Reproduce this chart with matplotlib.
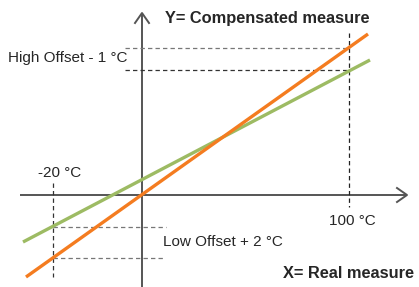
import matplotlib
matplotlib.use('Agg')
import matplotlib.pyplot as plt

plt.rcParams['font.family'] = ['Liberation Sans', 'DejaVu Sans']

# schematic units, origin at the axis crossing
line_x = [-116, 226]
orange_y = [-82, 161]
green_x = [-119, 228]
green_y = [-47, 135]

tick_x = [-89, 207]
tick_labels = ['-20 °C', '100 °C']
orange_at = [-63, 147]
green_at = [-32, 125]

orange = '#f47c20'
green = '#9dbb63'
axis_col = '#555555'

fig = plt.figure(figsize=(4.19, 2.87), dpi=100)
ax = fig.add_axes([0, 0, 1, 1])
ax.set_xlim(-142, 277)
ax.set_ylim(-92, 195)
ax.axis('off')

# axes with open arrow heads
ax.plot([-122, 265], [0, 0], color=axis_col, lw=1.4, solid_capstyle='butt')
ax.plot([0, 0], [-92, 182], color=axis_col, lw=1.4, solid_capstyle='butt')
ax.plot([255, 265, 255], [7, 0, -7], color=axis_col, lw=1.4)
ax.plot([-7, 0, 7], [172, 182, 172], color=axis_col, lw=1.4)

dash = dict(lw=0.9, dashes=(3.5, 2.5))
# verticals at -20 and 100
ax.plot([tick_x[0], tick_x[0]], [12, -82], color='#333333', **dash)
ax.plot([tick_x[1], tick_x[1]], [162, -12], color='#222222', **dash)
# high side
ax.plot([-17, tick_x[1]], [orange_at[1], orange_at[1]], color='#777777', **dash)
ax.plot([-17, tick_x[1]], [green_at[1], green_at[1]], color='#333333', **dash)
# low side
ax.plot([tick_x[0], 24], [green_at[0], green_at[0]], color='#777777', **dash)
ax.plot([tick_x[0], 23], [orange_at[0], orange_at[0]], color='#777777', **dash)

ax.plot(green_x, green_y, color=green, lw=2.4, solid_capstyle='butt')
ax.plot(line_x, orange_y, color=orange, lw=2.4, solid_capstyle='butt')

fs = 11
txt = '#262626'
ax.text(-82, 22, tick_labels[0], fontsize=fs, ha='center', va='center', color=txt)
ax.text(210, -26, tick_labels[1], fontsize=fs, ha='center', va='center', color=txt)
ax.text(-134, 137, 'High Offset - 1 °C', fontsize=fs, ha='left', va='center', color=txt)
ax.text(21, -47, 'Low Offset + 2 °C', fontsize=fs, ha='left', va='center', color=txt)
ax.text(23, 177, 'Y= Compensated measure', fontsize=11.8, fontweight='bold',
        ha='left', va='center', color=txt)
ax.text(272, -78, 'X= Real measure', fontsize=11.8, fontweight='bold',
        ha='right', va='center', color=txt)

fig.savefig('out.png', dpi=100)
